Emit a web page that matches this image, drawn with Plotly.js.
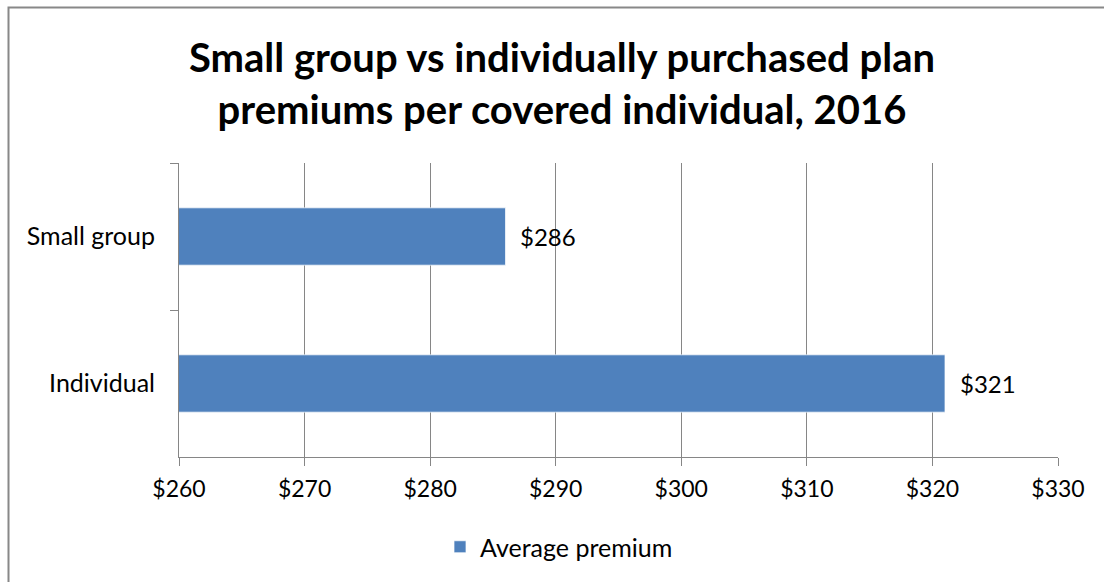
<!DOCTYPE html>
<html>
<head>
<meta charset="utf-8">
<script src="https://cdn.plot.ly/plotly-3.0.1.min.js"></script>
<style>
html,body{margin:0;padding:0;background:#fff;}
#chart{width:1104px;height:582px;}
</style>
</head>
<body>
<div id="chart"></div>
<script>
const categories = ["Small group", "Individual"];
const premiums = [286, 321];
const labels = ["$286", "$321"];
const tickValues = [260, 270, 280, 290, 300, 310, 320, 330];
const tickLabels = ["$260", "$270", "$280", "$290", "$300", "$310", "$320", "$330"];
const seriesName = "Average premium";
const titleText = "Small group vs individually purchased plan<br>premiums per covered individual, 2016";

const FONT = "Lato, 'Open Sans', sans-serif";

const trace = {
  type: "bar",
  orientation: "h",
  y: categories,
  x: premiums,
  base: 0,
  name: seriesName,
  marker: {color: "#4F81BD", line: {color: "rgba(255,255,255,0.7)", width: 1}},
  hoverinfo: "x+y",
  showlegend: true
};

const labelAnnotations = categories.map((c, i) => ({
  x: premiums[i],
  y: c,
  xref: "x",
  yref: "y",
  text: labels[i],
  showarrow: false,
  xanchor: "left",
  yanchor: "middle",
  xshift: 13,
  font: {family: FONT, size: 24, color: "#000"}
}));

const layout = {
  width: 1104,
  height: 582,
  paper_bgcolor: "#fff",
  plot_bgcolor: "#fff",
  margin: {l: 179, r: 46, t: 163, b: 125},
  font: {family: FONT, color: "#000"},
  title: {
    text: titleText,
    font: {family: FONT, size: 40, color: "#000", weight: "bold"},
    x: 562 / 1104,
    xanchor: "center",
    y: 1 - 72 / 582,
    yref: "container",
    yanchor: "middle"
  },
  bargap: 0.61,
  xaxis: {
    range: [260, 330],
    tickvals: tickValues,
    ticktext: tickLabels,
    showgrid: true,
    gridcolor: "#868686",
    gridwidth: 1,
    showline: true,
    linecolor: "#868686",
    linewidth: 1,
    ticks: "outside",
    ticklen: 8,
    tickcolor: "#868686",
    tickfont: {family: FONT, size: 23, color: "#000"},
    ticklabelstandoff: 3,
    zeroline: false,
    fixedrange: true
  },
  yaxis: {
    type: "category",
    autorange: "reversed",
    showgrid: false,
    showline: true,
    linecolor: "#868686",
    linewidth: 1,
    ticks: "outside",
    tickson: "boundaries",
    ticklen: 8,
    tickcolor: "#868686",
    tickfont: {family: FONT, size: 25, color: "#000"},
    ticklabelstandoff: 18,
    zeroline: false,
    fixedrange: true
  },
  annotations: labelAnnotations,
  showlegend: true,
  legend: {
    orientation: "h",
    x: (440 - 179) / 879,
    xanchor: "left",
    y: (457 - 547) / 294,
    yanchor: "middle",
    font: {family: FONT, size: 25, color: "#000"},
    bgcolor: "rgba(0,0,0,0)"
  },
  shapes: [{
    type: "rect",
    xref: "paper", yref: "paper",
    x0: (8.5 - 179) / 879, x1: 2,
    y0: (457 - 7.5) / 294, y1: -2,
    line: {color: "#888888", width: 2},
    fillcolor: "rgba(0,0,0,0)",
    layer: "below"
  }]
};

Plotly.newPlot("chart", [trace], layout, {displayModeBar: false, staticPlot: true});
</script>
</body>
</html>
